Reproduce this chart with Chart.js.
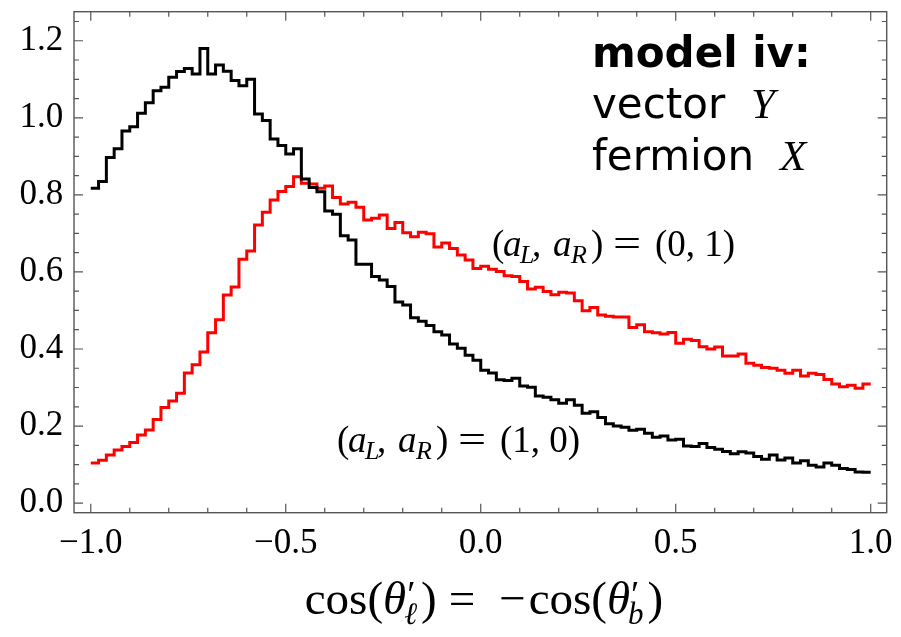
<!DOCTYPE html>
<html><head><meta charset="utf-8">
<script src="https://cdn.jsdelivr.net/npm/chart.js@4.4.1/dist/chart.umd.min.js"></script>
<style>html,body{margin:0;padding:0;background:#fff}canvas{display:block}</style>
</head><body>
<canvas id="c" width="901" height="637"></canvas>
<script>
// ---- data ----
const binStart = -1.0;
const binWidth = 0.02;
const seriesLabels = ['(aL, aR) = (1, 0)', '(aL, aR) = (0, 1)'];
const valuesLR10 = [ // black
0.817,0.835,0.897,0.920,0.966,0.977,1.012,1.039,1.070,1.079,
1.105,1.120,1.128,1.114,1.180,1.114,1.137,1.121,1.097,1.083,
1.100,1.010,0.993,0.945,0.928,0.906,0.920,0.841,0.819,0.808,
0.758,0.750,0.694,0.683,0.620,0.620,0.588,0.579,0.562,0.522,
0.514,0.481,0.472,0.461,0.445,0.436,0.413,0.402,0.384,0.371,
0.345,0.338,0.320,0.318,0.324,0.304,0.301,0.278,0.275,0.268,
0.259,0.268,0.254,0.233,0.237,0.222,0.206,0.200,0.197,0.189,
0.192,0.181,0.171,0.174,0.164,0.166,0.148,0.147,0.155,0.144,
0.140,0.134,0.128,0.133,0.130,0.121,0.114,0.125,0.112,0.117,
0.104,0.110,0.098,0.094,0.104,0.098,0.090,0.087,0.081,0.080];
const valuesLR01 = [ // red
0.104,0.111,0.125,0.138,0.147,0.157,0.177,0.190,0.217,0.248,
0.265,0.285,0.338,0.359,0.392,0.442,0.476,0.540,0.561,0.633,
0.654,0.722,0.755,0.787,0.809,0.822,0.847,0.830,0.828,0.817,
0.823,0.793,0.776,0.781,0.768,0.735,0.739,0.748,0.713,0.728,
0.702,0.691,0.703,0.699,0.665,0.675,0.661,0.644,0.631,0.609,
0.615,0.607,0.601,0.590,0.588,0.575,0.556,0.560,0.549,0.541,
0.547,0.545,0.525,0.499,0.508,0.488,0.485,0.483,0.483,0.456,
0.463,0.445,0.442,0.439,0.443,0.415,0.425,0.422,0.406,0.400,
0.405,0.382,0.382,0.387,0.363,0.358,0.352,0.350,0.345,0.337,
0.345,0.330,0.337,0.334,0.321,0.309,0.302,0.306,0.298,0.309];
const xTickLabels = [-1.0, -0.5, 0.0, 0.5, 1.0];
const yTickLabels = [0.0, 0.2, 0.4, 0.6, 0.8, 1.0, 1.2];
const xMinorStep = 0.1;
const yMinorStep = 0.05;

// ---- helpers ----
function stepPoints(values){
  const pts = values.map((v,i)=>({x: binStart + i*binWidth, y: v}));
  pts.push({x: binStart + values.length*binWidth, y: values[values.length-1]});
  return pts;
}
function fmt(v){
  if (Math.abs(v) < 1e-9) return '0.0';
  return (v < 0 ? '\u2212' : '') + Math.abs(v).toFixed(1);
}
const SERIF = '"Liberation Serif", "Times New Roman", serif';
const SANS = '"DejaVu Sans", sans-serif';

const framePlugin = {
  id: 'frame',
  afterDraw(chart){
    const ctx = chart.ctx, ca = chart.chartArea, xs = chart.scales.x, ys = chart.scales.y;
    ctx.save();
    ctx.strokeStyle = '#555';
    ctx.lineWidth = 1.2;
    ctx.beginPath();
    const xmin = xTickLabels[0], xmax = xTickLabels[xTickLabels.length-1];
    const nx = Math.round((xmax - xmin)/xMinorStep);
    for (let i = 0; i <= nx; i++){
      const v = xmin + i*xMinorStep;
      const major = xTickLabels.some(t => Math.abs(t - v) < 1e-6);
      const len = major ? 9 : 5;
      const px = xs.getPixelForValue(v);
      ctx.moveTo(px, ca.bottom); ctx.lineTo(px, ca.bottom - len);
      ctx.moveTo(px, ca.top); ctx.lineTo(px, ca.top + len);
    }
    const yTop = ys.max;
    for (let i = 0; ; i++){
      const v = yTickLabels[0] + i*yMinorStep;
      if (v > yTop) break;
      const major = yTickLabels.some(t => Math.abs(t - v) < 1e-6);
      const len = major ? 9 : 5;
      const py = ys.getPixelForValue(v);
      ctx.moveTo(ca.left, py); ctx.lineTo(ca.left + len, py);
      ctx.moveTo(ca.right, py); ctx.lineTo(ca.right - len, py);
    }
    ctx.stroke();
    ctx.lineWidth = 1.4;
    ctx.strokeRect(ca.left, ca.top, ca.right - ca.left, ca.bottom - ca.top);
    ctx.restore();
  }
};

function drawAt(ctx, t, font, x, y){ ctx.font = font; ctx.fillText(t, x, y); }
function drawWide(ctx, t, font, x, y, sx){
  ctx.save(); ctx.font = font; ctx.translate(x, y); ctx.scale(sx, 1); ctx.fillText(t, 0, 0); ctx.restore();
}

const textPlugin = {
  id: 'texts',
  afterDraw(chart){
    const ctx = chart.ctx;
    ctx.save();
    ctx.fillStyle = '#000';
    ctx.textBaseline = 'alphabetic';
    ctx.textAlign = 'left';
    // model annotation
    drawAt(ctx, 'model iv:', 'bold 42px ' + SANS, 592, 66.7);
    drawAt(ctx, 'vector', '42px ' + SANS, 592, 118.3);
    drawAt(ctx, 'Y', 'italic 43px ' + SERIF, 751, 118.3);
    drawAt(ctx, 'fermion', '42px ' + SANS, 592, 170);
    drawAt(ctx, 'X', 'italic 43px ' + SERIF, 780, 170);

    // series labels
    const R = '37px ' + SERIF, I = 'italic 37px ' + SERIF, IS = 'italic 26px ' + SERIF;
    function pairLabel(x0, base, pair){
      drawAt(ctx, '(', R, x0 - 1, base);
      drawAt(ctx, 'a', I, x0 + 10, base);
      drawAt(ctx, 'L', IS, x0 + 27, base + 7);
      drawAt(ctx, ',', R, x0 + 39, base);
      drawAt(ctx, 'a', I, x0 + 60, base);
      drawAt(ctx, 'R', IS, x0 + 78, base + 7);
      drawAt(ctx, ')', R, x0 + 98, base);
      drawWide(ctx, '=', R, x0 + 120, base, 1.35);
      drawAt(ctx, pair, R, x0 + 162, base);
    }
    pairLabel(493, 256, '(0, 1)');
    pairLabel(338, 451.7, '(1, 0)');

    // x axis title: cos(θ'_ℓ) = −cos(θ'_b)
    const TR = '47px ' + SERIF, TI = 'italic 47px ' + SERIF, TS = 'italic 31px ' + SERIF, TP = '38px ' + SERIF;
    const tb = 614;
    function measure(t, f){ ctx.font = f; return ctx.measureText(t).width; }
    const parts = [
      ['cos(', TR, 0, 0], ['θ', TI, 0, 0], ['sub', 'ℓ'], [')', TR, 0, 0], ['=', TR, 12, 0],
      ['\u2212', TR, 12, 0], ['cos(', TR, 3, 0], ['θ', TI, 0, 0], ['sub', 'b'], [')', TR, 0, 0]
    ];
    let total = 0;
    const widths = parts.map(p => {
      let w;
      if (p[0] === 'sub') w = Math.max(measure('\u2032', TP), measure(p[1], TS)) + 2;
      else w = p[2] + measure(p[0], p[1]) + (p[0] === '=' ? 12 : 0);
      total += w; return w;
    });
    let x = 484 - total/2;
    parts.forEach((p, k) => {
      if (p[0] === 'sub'){
        drawAt(ctx, '\u2032', TP, x + 1, tb - 7);
        drawAt(ctx, p[1], TS, x - 2, tb + 10);
      } else {
        drawAt(ctx, p[0], p[1], x + p[2], tb + p[3]);
      }
      x += widths[k];
    });
    ctx.restore();
  }
};

function noPad(s){ s.paddingTop = 0; s.paddingBottom = 0; s.paddingLeft = 0; s.paddingRight = 0; }

new Chart(document.getElementById('c').getContext('2d'), {
  type: 'line',
  data: {
    datasets: [
      { label: seriesLabels[0], data: stepPoints(valuesLR10), borderColor: '#000000', borderWidth: 3,
        stepped: 'before', pointRadius: 0, fill: false },
      { label: seriesLabels[1], data: stepPoints(valuesLR01), borderColor: '#ff0000', borderWidth: 3,
        stepped: 'before', pointRadius: 0, fill: false }
    ]
  },
  options: {
    responsive: false,
    animation: false,
    layout: { padding: { top: 11.7, right: 14.3, left: 0, bottom: 0 } },
    plugins: { legend: { display: false }, tooltip: { enabled: false } },
    scales: {
      x: {
        type: 'linear', min: -1.043, max: 1.041,
        afterBuildTicks: s => { s.ticks = xTickLabels.map(v => ({ value: v })); },
        afterFit: s => { s.height = 124.3; noPad(s); },
        grid: { display: false, drawTicks: false }, border: { display: false },
        ticks: { font: { family: SERIF, size: 35 }, color: '#000', padding: 10, maxRotation: 0, autoSkip: false,
                 callback: v => fmt(v) }
      },
      y: {
        type: 'linear', min: -0.0249, max: 1.2754,
        afterBuildTicks: s => { s.ticks = yTickLabels.map(v => ({ value: v })); },
        afterFit: s => { s.width = 74; noPad(s); },
        grid: { display: false, drawTicks: false }, border: { display: false },
        ticks: { font: { family: SERIF, size: 35 }, color: '#000', padding: 10.7, autoSkip: false,
                 callback: v => fmt(v) }
      }
    }
  },
  plugins: [framePlugin, textPlugin]
});
</script>
</body></html>
